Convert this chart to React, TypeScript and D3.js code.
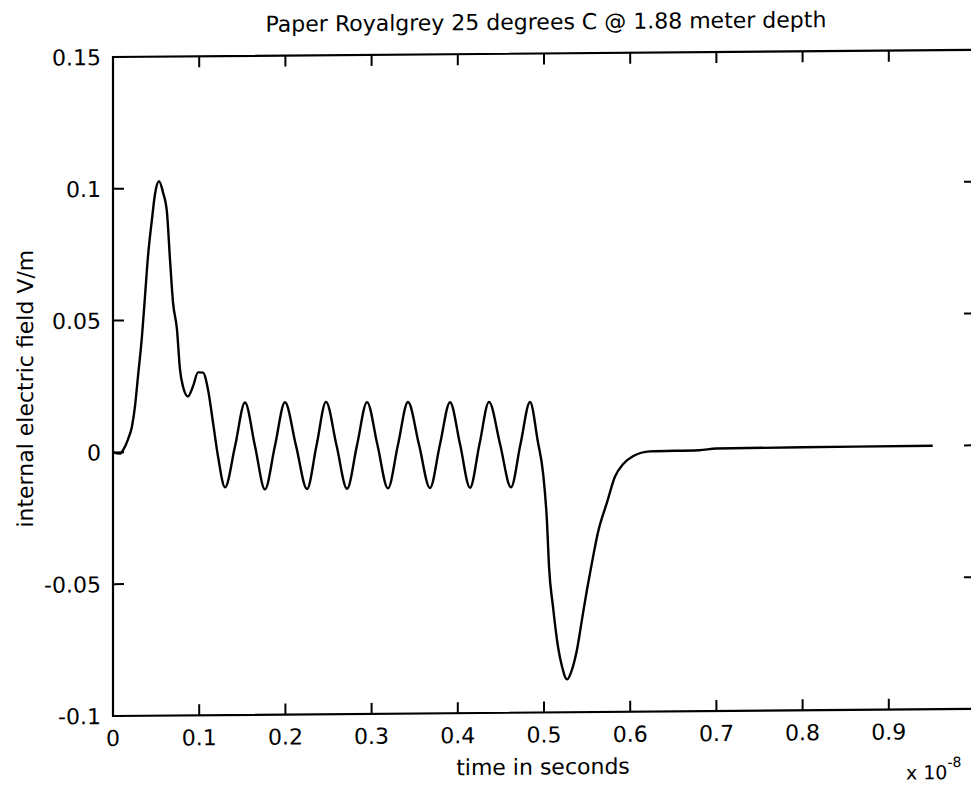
import React from "react";
import * as d3 from "d3";

const titleText = "Paper Royalgrey 25 degrees C @ 1.88 meter depth";
const xLabelText = "time in seconds";
const yLabelText = "internal electric field V/m";

const xTicks = [0, 0.1, 0.2, 0.3, 0.4, 0.5, 0.6, 0.7, 0.8, 0.9, 1.0];
const xTickLabels = ["0", "0.1", "0.2", "0.3", "0.4", "0.5", "0.6", "0.7", "0.8", "0.9", ""];
const yTicks = [-0.1, -0.05, 0, 0.05, 0.1, 0.15];
const yTickLabels = ["-0.1", "-0.05", "0", "0.05", "0.1", "0.15"];

// time in units of 1e-8 s
const timeValues = [
  0, 0.008, 0.012, 0.0174, 0.022, 0.0255, 0.029, 0.0336, 0.0371, 0.0406, 0.0452, 0.0487, 0.0534,
  0.058, 0.0626, 0.0661, 0.0696, 0.0742, 0.0777, 0.0812, 0.087, 0.0928, 0.0986, 0.1044, 0.1102,
  0.116, 0.1218, 0.13, 0.1416, 0.1531, 0.1647, 0.1763, 0.1879, 0.1995, 0.2123, 0.2251, 0.2361,
  0.2471, 0.2593, 0.2715, 0.2831, 0.2947, 0.3068, 0.319, 0.3306, 0.3422, 0.355, 0.3677, 0.3793,
  0.391, 0.4026, 0.4142, 0.4252, 0.4362, 0.449, 0.4617, 0.4728, 0.4838, 0.493, 0.4988, 0.5035,
  0.5058, 0.5104, 0.5162, 0.5209, 0.5267, 0.5325, 0.5383, 0.5441, 0.5499, 0.5557, 0.5626, 0.5731,
  0.5824, 0.5916, 0.6032, 0.623, 0.68, 0.7, 0.8, 0.951,
];
const fieldValues = [
  0, -0.0005, 0.001, 0.0049, 0.0098, 0.0174, 0.0288, 0.0439, 0.059, 0.0743, 0.0883, 0.0978, 0.1027,
  0.0985, 0.0909, 0.0731, 0.0568, 0.0465, 0.0313, 0.0248, 0.021, 0.0248, 0.0301, 0.03, 0.0236,
  0.0111, -0.0018, -0.0136, 0.002, 0.0185, 0.002, -0.0145, 0.002, 0.0185, 0.002, -0.0145, 0.002,
  0.0185, 0.002, -0.0145, 0.002, 0.0183, 0.002, -0.0145, 0.002, 0.0182, 0.002, -0.0145, 0.002,
  0.018, 0.002, -0.0145, 0.002, 0.018, 0.002, -0.0145, 0.002, 0.0178, 0.0025, -0.0089, -0.0279,
  -0.0446, -0.0598, -0.075, -0.0826, -0.0875, -0.0838, -0.0762, -0.0648, -0.0535, -0.0432, -0.0319, -0.0205,
  -0.0107, -0.0061, -0.0031, -0.0013, -0.0010, -0.0004, -0.0002, 0,
];

const FONT = "'DejaVu Sans', Verdana, sans-serif";

export default function App() {
  const left = 113, right = 975, top = 57, bottom = 716;
  const x = d3.scaleLinear().domain([0, 1]).range([left, right]);
  const y = d3.scaleLinear().domain([-0.1, 0.15]).range([bottom, top]);
  const data = timeValues.map((t, i) => [t, fieldValues[i]] as [number, number]);
  const line = d3
    .line<[number, number]>()
    .x((d) => x(d[0]))
    .y((d) => y(d[1]))
    .curve(d3.curveMonotoneX);
  const k = Math.tan((-0.47 * Math.PI) / 180);
  const skew = `translate(0, ${-left * k}) skewY(-0.47)`;
  const tl = 11;

  return (
    <svg
      width={971}
      height={789}
      style={{ position: "absolute", left: 0, top: 0, display: "block", background: "#fff" }}
      fontFamily={FONT}
    >
      <rect x={0} y={0} width={971} height={789} fill="#fff" />
      <g transform={skew}>
        <text x={546} y={33} fontSize={22} textAnchor="middle" fill="#000">
          {titleText}
        </text>
        <rect x={left} y={top} width={right - left} height={bottom - top} fill="none" stroke="#000" strokeWidth={2.2} />
        {xTicks.map((t, i) => (
          <g key={"xt" + i}>
            <line x1={x(t)} y1={bottom} x2={x(t)} y2={bottom - tl} stroke="#000" strokeWidth={2} />
            <line x1={x(t)} y1={top} x2={x(t)} y2={top + tl} stroke="#000" strokeWidth={2} />
            <text x={x(t)} y={bottom + 30} fontSize={22} textAnchor="middle" fill="#000">
              {xTickLabels[i]}
            </text>
          </g>
        ))}
        {yTicks.map((v, i) => (
          <g key={"yt" + i}>
            <line x1={left} y1={y(v)} x2={left + tl} y2={y(v)} stroke="#000" strokeWidth={2} />
            <line x1={right} y1={y(v)} x2={right - tl} y2={y(v)} stroke="#000" strokeWidth={2} />
            <text x={101} y={y(v) + 8} fontSize={22} textAnchor="end" fill="#000">
              {yTickLabels[i]}
            </text>
          </g>
        ))}
        <path d={line(data) || ""} fill="none" stroke="#000" strokeWidth={2.4} strokeLinejoin="round" />
        <text x={543} y={778} fontSize={22} textAnchor="middle" fill="#000">
          {xLabelText}
        </text>
        <text x={906} y={786} fontSize={19} fill="#000">
          x 10
          <tspan fontSize={14} dy={-12}>-8</tspan>
        </text>
        <text transform={`translate(33, 388) rotate(-90)`} fontSize={22} textAnchor="middle" fill="#000">
          {yLabelText}
        </text>
      </g>
    </svg>
  );
}
